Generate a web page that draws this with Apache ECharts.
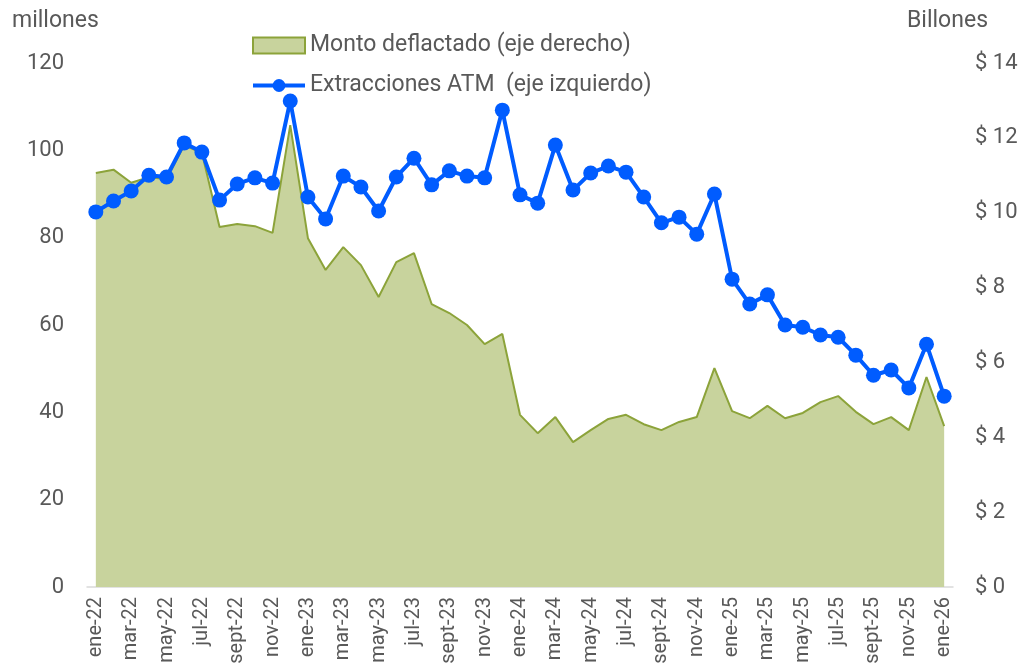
<!DOCTYPE html>
<html>
<head>
<meta charset="utf-8">
<script src="https://cdn.jsdelivr.net/npm/echarts@6/dist/echarts.min.js"></script>
<style>
  html, body { margin: 0; padding: 0; background: #fff; }
  #chart { width: 1030px; height: 672px; }
</style>
</head>
<body>
<div id="chart"></div>
<script>
// meses ene-22 .. ene-26
const meses = ['ene','feb','mar','abr','may','jun','jul','ago','sept','oct','nov','dic'];
const categorias = [];
for (let a = 22; a <= 26; a++) {
    for (let m = 0; m < 12; m++) {
        if (a === 26 && m > 0) break;
        categorias.push(meses[m] + '-' + a);
    }
}

// Extracciones ATM (millones, eje izquierdo)
const extracciones = [
    85.9, 88.4, 90.7, 94.3, 93.9, 101.7, 99.6, 88.6, 92.3, 93.7, 92.5, 111.3,
    89.3, 84.3, 94.1, 91.6, 86.1, 93.9, 98.2, 92.1, 95.3, 94.1, 93.7, 109.2,
    89.8, 87.9, 101.2, 90.9, 94.8, 96.4, 95.0, 89.3, 83.4, 84.7, 80.8, 90.0,
    70.5, 64.8, 66.9, 60.0, 59.5, 57.7, 57.2, 53.1, 48.5, 49.7, 45.6, 55.6,
    43.7
];

// Monto deflactado (billones, eje derecho)
const monto = [
    11.06, 11.15, 10.8, 10.95, 10.9, 11.8, 11.6, 9.62, 9.7, 9.64, 9.46, 12.34,
    9.32, 8.47, 9.08, 8.6, 7.75, 8.68, 8.92, 7.56, 7.32, 7.0, 6.49, 6.76,
    4.6, 4.11, 4.54, 3.87, 4.19, 4.49, 4.6, 4.35, 4.19, 4.41, 4.54, 5.85,
    4.7, 4.51, 4.84, 4.51, 4.65, 4.94, 5.1, 4.68, 4.35, 4.54, 4.19, 5.61,
    4.3
];

const ticksIzq = [0, 20, 40, 60, 80, 100, 120];
const ticksDer = [0, 2, 4, 6, 8, 10, 12, 14];

const gris = '#595959';
const chart = echarts.init(document.getElementById('chart'));

const option = {
    animation: false,
    textStyle: { fontFamily: 'Roboto' },
    grid: { left: 87, right: 77, top: 63, bottom: 85 },
    legend: {
        orient: 'vertical',
        left: 246,
        top: 29,
        itemWidth: 52,
        itemHeight: 16,
        itemGap: 17,
        textStyle: { color: gris, fontSize: 23, fontFamily: 'Roboto' },
        data: [
            { name: 'Monto deflactado (eje derecho)', icon: 'rect' },
            { name: 'Extracciones ATM  (eje izquierdo)', lineStyle: { width: 4 } }
        ]
    },
    graphic: [
        { type: 'text', left: 12, top: 10, style: { text: 'millones', fill: gris, font: '23px Roboto' } },
        { type: 'text', right: 42, top: 10, style: { text: 'Billones', fill: gris, font: '23px Roboto' } }
    ],
    xAxis: {
        type: 'category',
        data: categorias,
        boundaryGap: true,
        axisLine: { lineStyle: { color: '#d9d9d9', width: 1.5 } },
        axisTick: { interval: 1, length: 9, lineStyle: { color: '#d9d9d9', width: 1.5 } },
        axisLabel: { interval: 1, rotate: 90, color: gris, fontSize: 20, margin: 10 }
    },
    yAxis: [
        {
            type: 'value',
            min: ticksIzq[0],
            max: ticksIzq[ticksIzq.length - 1],
            interval: 20,
            axisLine: { show: false },
            axisTick: { show: false },
            splitLine: { show: false },
            axisLabel: { color: gris, fontSize: 22, margin: 23 }
        },
        {
            type: 'value',
            min: ticksDer[0],
            max: ticksDer[ticksDer.length - 1],
            interval: 2,
            position: 'right',
            axisLine: { show: false },
            axisTick: { show: false },
            splitLine: { show: false },
            axisLabel: { color: gris, fontSize: 22, margin: 22, formatter: '$ {value}' }
        }
    ],
    series: [
        {
            name: 'Monto deflactado (eje derecho)',
            type: 'line',
            yAxisIndex: 1,
            data: monto,
            symbol: 'none',
            lineStyle: { color: '#8ca33a', width: 2 },
            itemStyle: { color: '#c8d39d', borderColor: '#8ca33a', borderWidth: 2 },
            areaStyle: { color: '#c8d39d', opacity: 1 },
            z: 1
        },
        {
            name: 'Extracciones ATM  (eje izquierdo)',
            type: 'line',
            yAxisIndex: 0,
            data: extracciones,
            symbol: 'circle',
            symbolSize: 15,
            showAllSymbol: true,
            lineStyle: { color: '#005cff', width: 4 },
            itemStyle: { color: '#005cff' },
            z: 3
        }
    ]
};
chart.setOption(option);
</script>
</body>
</html>
